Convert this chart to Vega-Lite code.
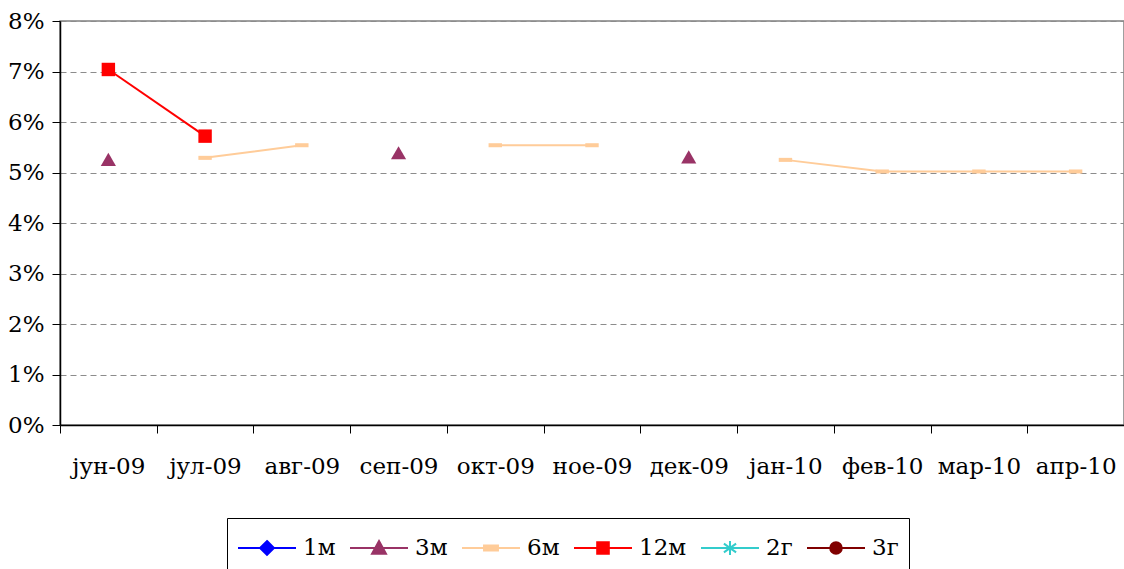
{
  "$schema": "https://vega.github.io/schema/vega-lite/v6.json",
  "width": 1064,
  "height": 404,
  "autosize": {"type": "none"},
  "padding": {"left": 60, "top": 21, "right": 0, "bottom": 144},
  "background": "white",
  "config": {
    "view": {"stroke": "#808080", "strokeWidth": 1.5},
    "font": "DejaVu Serif",
    "axis": {"labelFont": "DejaVu Serif", "labelFontSize": 23, "labelColor": "black"}
  },
  "data": {
    "values": [
      {"month": "јун-09", "series": "3м", "value": 5.26},
      {"month": "јул-09", "series": "3м", "value": null},
      {"month": "авг-09", "series": "3м", "value": null},
      {"month": "сеп-09", "series": "3м", "value": 5.39},
      {"month": "окт-09", "series": "3м", "value": null},
      {"month": "ное-09", "series": "3м", "value": null},
      {"month": "дек-09", "series": "3м", "value": 5.31},
      {"month": "јан-10", "series": "3м", "value": null},
      {"month": "фев-10", "series": "3м", "value": null},
      {"month": "мар-10", "series": "3м", "value": null},
      {"month": "апр-10", "series": "3м", "value": null},
      {"month": "јун-09", "series": "6м", "value": null},
      {"month": "јул-09", "series": "6м", "value": 5.29},
      {"month": "авг-09", "series": "6м", "value": 5.54},
      {"month": "сеп-09", "series": "6м", "value": null},
      {"month": "окт-09", "series": "6м", "value": 5.54},
      {"month": "ное-09", "series": "6м", "value": 5.54},
      {"month": "дек-09", "series": "6м", "value": null},
      {"month": "јан-10", "series": "6м", "value": 5.25},
      {"month": "фев-10", "series": "6м", "value": 5.02},
      {"month": "мар-10", "series": "6м", "value": 5.02},
      {"month": "апр-10", "series": "6м", "value": 5.02},
      {"month": "јун-09", "series": "12м", "value": 7.04},
      {"month": "јул-09", "series": "12м", "value": 5.72},
      {"month": "авг-09", "series": "12м", "value": null}
    ]
  },
  "encoding": {
    "x": {
      "field": "month", "type": "nominal",
      "sort": ["јун-09","јул-09","авг-09","сеп-09","окт-09","ное-09","дек-09","јан-10","фев-10","мар-10","апр-10"],
      "scale": {"paddingInner": 0, "paddingOuter": 0},
      "axis": {"title": null, "labelAngle": 0, "tickBand": "extent", "domainColor": "black", "domainWidth": 1.5, "tickColor": "black", "tickWidth": 1, "tickSize": 8, "labelPadding": 22, "grid": false}
    },
    "y": {
      "field": "value", "type": "quantitative",
      "scale": {"domain": [0, 8], "nice": false},
      "axis": {"title": null, "values": [0,1,2,3,4,5,6,7,8], "labelExpr": "datum.value + '%'", "domainColor": "black", "domainWidth": 1.5, "tickColor": "black", "tickSize": 8, "labelPadding": 8, "grid": true, "gridColor": "#8c8c8c", "gridDash": [6, 4], "gridWidth": 1}
    },
    "color": {
      "field": "series", "type": "nominal",
      "scale": {"domain": ["1м","3м","6м","12м","2г","3г"], "range": ["#0000FF","#993366","#FFCC99","#FF0000","#33CCCC","#800000"]},
      "legend": {
        "title": null, "orient": "none", "legendX": 167, "legendY": 497, "direction": "horizontal",
        "strokeColor": "black", "fillColor": "white", "padding": 10,
        "labelFont": "DejaVu Serif", "labelFontSize": 23, "labelColor": "black",
        "labelOffset": 6, "columnPadding": 10, "symbolSize": 3364, "symbolType": "stroke",
        "encode": {
          "symbols": {
            "update": {
              "y": {"value": 20},
              "shape": {"signal": "datum.value === '1м' ? 'M-1,0H1M0,-0.24L0.24,0L0,0.24L-0.24,0Z' : datum.value === '3м' ? 'M-1,0H1M0,-0.24L0.24,0.2L-0.24,0.2Z' : datum.value === '6м' ? 'M-1,0H1M-0.24,-0.09H0.24V0.09H-0.24Z' : datum.value === '12м' ? 'M-1,0H1M-0.2,-0.2H0.2V0.2H-0.2Z' : datum.value === '2г' ? 'M-1,0H1M0,-0.24V0.24M-0.21,-0.15L0.21,0.15M-0.21,0.15L0.21,-0.15' : 'M-1,0H1M0.2,0A0.2,0.2,0,1,1,-0.2,0A0.2,0.2,0,1,1,0.2,0Z'"},
              "fill": {"signal": "scale('color', datum.value)"},
              "stroke": {"signal": "scale('color', datum.value)"},
              "strokeWidth": {"value": 2},
              "opacity": {"value": 1}
            }
          },
          "labels": {
            "update": {"y": {"value": 20}}
          }
        }
      }
    }
  },
  "layer": [
    {
      "mark": {"type": "line", "strokeWidth": 2, "invalid": "break-paths-show-domains"},
      "encoding": {"detail": {"field": "series"}}
    },
    {
      "transform": [{"filter": "datum.value != null && datum.series === '3м'"}],
      "mark": {"type": "point", "filled": true, "opacity": 1, "size": 230, "shape": "triangle-up"}
    },
    {
      "transform": [{"filter": "datum.value != null && datum.series === '6м'"}],
      "mark": {"type": "point", "filled": true, "opacity": 1, "size": 180, "shape": "M-1,-0.3H1V0.3H-1Z"}
    },
    {
      "transform": [{"filter": "datum.value != null && datum.series === '12м'"}],
      "mark": {"type": "point", "filled": true, "opacity": 1, "size": 180, "shape": "square"}
    }
  ]
}
